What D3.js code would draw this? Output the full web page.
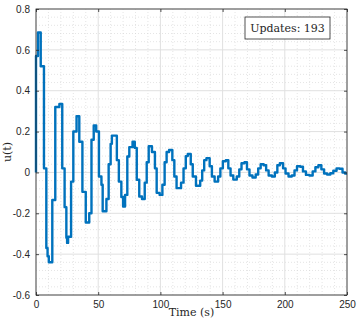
<!DOCTYPE html>
<html>
<head>
<meta charset="utf-8">
<script src="https://d3js.org/d3.v7.min.js"></script>
<style>
  body { margin: 0; background: white; }
  .tick-label { font-family: "Liberation Sans", Arial, sans-serif; font-size: 10px; fill: #262626; }
  .latex { font-family: "DejaVu Serif", "Liberation Serif", serif; fill: #262626; }
</style>
</head>
<body>
<svg id="chart" width="358" height="320"></svg>
<script>
// step signal u(t)
let times = [0, 0, 1.6, 3.8, 6.4, 8.3, 9.3, 10.3, 13.1, 15.5, 18.8, 21.1, 23.0, 24.4, 25.0, 25.8,
  28.2, 30.0, 32.6, 34.8, 37.3, 40.0, 42.8, 44.6, 46.4, 48.4, 50.6, 52.6, 53.6, 56.6, 58.4,
  60.0, 61.0, 65.0, 66.6, 68.6, 70.0, 71.6, 73.4, 75.0, 77.6, 79.4, 81.0, 83.0, 85.2, 87.4,
  89.0, 90.6, 93.2, 95.6, 97.0, 99.4, 101.6, 103.4, 105.0, 107.0, 109.6, 111.2, 113.0, 116.6,
  118.6, 120.4, 122.0, 124.4, 126.0, 128.6, 132.0, 133.6, 135.2, 137.0, 139.6, 141.4, 143.6,
  146.4, 148.2, 150.2, 152.6, 154.6, 156.4, 158.6, 161.4, 163.4, 165.2, 167.6, 169.6, 171.6,
  174.0, 176.6, 178.6, 180.6, 183.0, 185.0, 187.0, 189.6, 192.0, 194.0, 196.0, 198.6, 200.6,
  203.0, 205.6, 207.8, 209.8, 212.4, 214.6, 217.0, 219.8, 222.4, 224.6, 227.0, 229.4, 231.6,
  234.0, 236.6, 239.0, 241.6, 244.0, 246.4, 248.6, 250];
let values = [0, 0.57, 0.685, 0.52, 0.02, -0.37, -0.41, -0.44, -0.135, 0.32, 0.335, 0.02, -0.17, -0.32, -0.345, -0.315,
  -0.045, 0.2, 0.275, 0.15, -0.095, -0.245, -0.2, 0.16, 0.23, 0.2, -0.02, -0.06, -0.19, -0.13, 0.04,
  0.14, 0.18, 0.06, -0.045, -0.12, -0.167, -0.11, 0.078, 0.124, 0.15, 0.12, -0.036, -0.118, -0.13, -0.05,
  0.05, 0.128, 0.1, 0.02, -0.1, -0.11, -0.06, 0.05, 0.1, 0.11, 0.06, -0.02, -0.077, -0.05,
  0.02, 0.08, 0.09, 0.04, -0.02, -0.065, -0.04, 0.01, 0.06, 0.07, 0.03, -0.02, -0.045,
  -0.02, 0.02, 0.055, 0.06, 0.02, -0.015, -0.035, -0.02, 0.015, 0.045, 0.05, 0.015, -0.015,
  -0.025, -0.01, 0.02, 0.04, 0.035, 0.01, -0.015, -0.02, 0.0, 0.035, 0.045, 0.02, -0.005,
  -0.02, -0.015, 0.01, 0.03, 0.028, 0.005, -0.012, -0.015, 0.005, 0.025, 0.035, 0.015, -0.005,
  -0.01, -0.004, 0.008, 0.02, 0.018, 0.0, -0.006, -0.006];

let xTicks = [0, 50, 100, 150, 200, 250];
let yTicks = [-0.6, -0.4, -0.2, 0, 0.2, 0.4, 0.6, 0.8];
let legendText = "Updates: 193";

let svg = d3.select("#chart");
let mLeft = 36, mRight = 347, mTop = 9, mBottom = 295;

let x = d3.scaleLinear().domain([0, 250]).range([mLeft, mRight]);
let y = d3.scaleLinear().domain([-0.6, 0.8]).range([mBottom, mTop]);

let grid = svg.append("g");
// minor grid
d3.range(0, 251, 10).filter(d => d % 50 != 0).forEach(d => {
  grid.append("line").attr("x1", x(d)).attr("x2", x(d)).attr("y1", mTop).attr("y2", mBottom)
    .attr("stroke", "#d4d4d4").attr("stroke-width", 0.6).attr("stroke-dasharray", "1,2");
});
d3.range(-0.6, 0.8001, 0.04).map(d => Math.round(d * 100) / 100)
  .filter(d => Math.abs(Math.round(d * 5) - d * 5) > 1e-6).forEach(d => {
  grid.append("line").attr("x1", mLeft).attr("x2", mRight).attr("y1", y(d)).attr("y2", y(d))
    .attr("stroke", "#d4d4d4").attr("stroke-width", 0.6).attr("stroke-dasharray", "1,2");
});
// major grid
xTicks.forEach(d => {
  grid.append("line").attr("x1", x(d)).attr("x2", x(d)).attr("y1", mTop).attr("y2", mBottom)
    .attr("stroke", "#e0e0e0").attr("stroke-width", 1);
});
yTicks.forEach(d => {
  grid.append("line").attr("x1", mLeft).attr("x2", mRight).attr("y1", y(d)).attr("y2", y(d))
    .attr("stroke", "#e0e0e0").attr("stroke-width", 1);
});

// signal
let pts = times.map((t, i) => [t, values[i]]);
let line = d3.line().x(d => x(d[0])).y(d => y(d[1])).curve(d3.curveStepAfter);
svg.append("path").datum(pts).attr("d", line)
  .attr("fill", "none").attr("stroke", "#0072BD").attr("stroke-width", 2.4)
  .attr("stroke-linejoin", "round");

// axes (inward ticks, box)
let axB = d3.axisBottom(x).tickValues(xTicks).tickSize(-3).tickPadding(6).tickFormat(d3.format("d"));
let axL = d3.axisLeft(y).tickValues(yTicks).tickSize(-3).tickPadding(6)
  .tickFormat(d => d == 0 ? "0" : d3.format(".1f")(d).replace("\u2212", "-"));
let axT = d3.axisTop(x).tickValues(xTicks).tickSize(-3).tickFormat("");
let axR = d3.axisRight(y).tickValues(yTicks).tickSize(-3).tickFormat("");

function styleAxis(g) {
  g.select(".domain").remove();
  g.selectAll(".tick line").attr("stroke", "#262626").attr("stroke-width", 0.8);
  g.selectAll(".tick text").attr("class", "tick-label").attr("fill", "#262626");
}
svg.append("g").attr("transform", `translate(0,${mBottom})`).call(axB).call(styleAxis);
svg.append("g").attr("transform", `translate(${mLeft},0)`).call(axL).call(styleAxis);
svg.append("g").attr("transform", `translate(0,${mTop})`).call(axT).call(styleAxis);
svg.append("g").attr("transform", `translate(${mRight},0)`).call(axR).call(styleAxis);
svg.append("rect").attr("x", mLeft).attr("y", mTop).attr("width", mRight - mLeft).attr("height", mBottom - mTop)
  .attr("fill", "none").attr("stroke", "#262626").attr("stroke-width", 0.8);

// labels
svg.append("text").attr("class", "latex").attr("font-size", 11)
  .attr("x", (mLeft + mRight) / 2).attr("y", 316).attr("text-anchor", "middle").text("Time (s)");
svg.append("text").attr("class", "latex").attr("font-size", 11)
  .attr("transform", `translate(11,${y(0.1)}) rotate(-90)`).attr("text-anchor", "middle").text("u(t)");

// legend box
let lg = svg.append("g");
lg.append("rect").attr("x", 245).attr("y", 17).attr("width", 85).attr("height", 22)
  .attr("fill", "white").attr("stroke", "#262626").attr("stroke-width", 0.8);
lg.append("text").attr("class", "latex").attr("font-size", 11)
  .attr("x", 287.5).attr("y", 32).attr("text-anchor", "middle").text(legendText);
</script>
</body>
</html>
